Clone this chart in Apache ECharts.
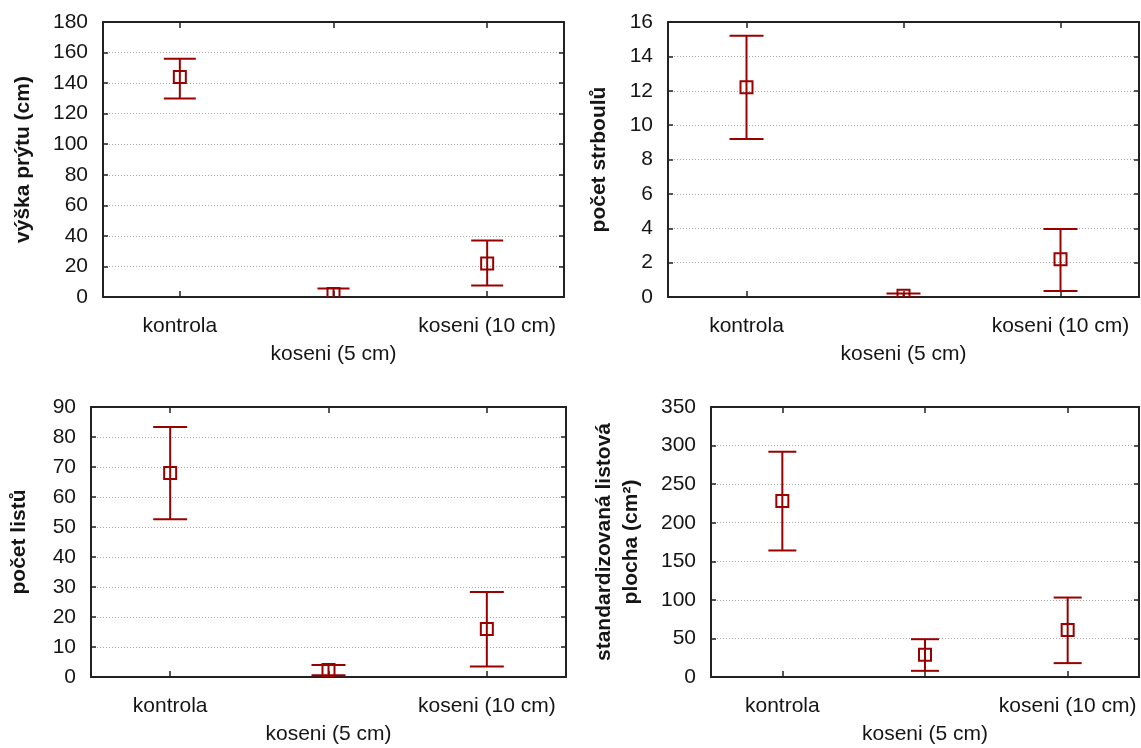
<!DOCTYPE html>
<html>
<head>
<meta charset="utf-8">
<script src="https://cdn.jsdelivr.net/npm/echarts@6/dist/echarts.min.js"></script>
<style>
  html, body { margin: 0; padding: 0; background: #ffffff; }
  #chart { width: 1141px; height: 748px; }
</style>
</head>
<body>
<div id="chart"></div>
<script>
// Treatment groups shared by all four panels
const categories = ['kontrola', 'koseni (5 cm)', 'koseni (10 cm)'];

// výška prýtu (cm): mean with lower / upper interval bounds
const vyskaMean = [144, 2, 22];
const vyskaLow  = [130, -1.5, 7.5];
const vyskaHigh = [156, 5.5, 37];

// počet strboulů
const strbMean = [12.2, 0.08, 2.2];
const strbLow  = [9.2, -0.04, 0.35];
const strbHigh = [15.2, 0.2, 3.95];

// počet listů
const listyMean = [68, 2.3, 16];
const listyLow  = [52.6, 0.6, 3.5];
const listyHigh = [83.3, 4.0, 28.3];

// standardizovaná listová plocha (cm²)
const plochaMean = [228, 29, 61];
const plochaLow  = [164, 8, 18];
const plochaHigh = [292, 49, 103];

// Value-axis scales
const yMax      = [180, 16, 90, 350];
const yInterval = [20, 2, 10, 50];

const yNames = [
  'výška prýtu (cm)',
  'počet strboulů',
  'počet listů',
  'standardizovaná listová\nplocha (cm²)'
];

const panels = [
  { mean: vyskaMean,  low: vyskaLow,  high: vyskaHigh },
  { mean: strbMean,   low: strbLow,   high: strbHigh },
  { mean: listyMean,  low: listyLow,  high: listyHigh },
  { mean: plochaMean, low: plochaLow, high: plochaHigh }
];

// Plot rectangles and per-panel styling
const grids = [
  { left: 103, top: 22,  width: 461, height: 275 },
  { left: 668, top: 22,  width: 471, height: 275 },
  { left: 91,  top: 407, width: 475, height: 275 },
  { left: 711, top: 407, width: 428, height: 275 }
];
const nameGaps = [66, 55, 58, 66];
const capHalf  = [16, 17, 17, 14];

const FONT = "'Liberation Sans', Arial, sans-serif";
const INK = '#151515';
const MARK = '#990000';
const AXIS_LINE = { show: true, onZero: false, lineStyle: { color: '#222', width: 2 } };

const xAxis = [];
const yAxis = [];
const series = [];

grids.forEach((g, i) => {
  // bottom category axis with staggered labels
  xAxis.push({
    gridIndex: i,
    type: 'category',
    data: categories,
    position: 'bottom',
    boundaryGap: true,
    axisLine: AXIS_LINE,
    axisTick: { show: true, inside: true, length: 6, alignWithLabel: true,
                lineStyle: { color: '#222', width: 1.5 } },
    axisLabel: {
      interval: 0,
      margin: 15,
      color: INK,
      fontFamily: FONT,
      fontSize: 21,
      lineHeight: 28,
      hideOverlap: false,
      formatter: (v, idx) => (idx % 2 === 1 ? '\n' + v : v)
    },
    splitLine: { show: false }
  });
  // top frame axis
  xAxis.push({
    gridIndex: i,
    type: 'category',
    data: categories,
    position: 'top',
    boundaryGap: true,
    axisLine: AXIS_LINE,
    axisTick: { show: true, inside: true, length: 6, alignWithLabel: true,
                lineStyle: { color: '#222', width: 1.5 } },
    axisLabel: { show: false },
    splitLine: { show: false }
  });
  // left value axis
  yAxis.push({
    gridIndex: i,
    type: 'value',
    position: 'left',
    min: 0,
    max: yMax[i],
    interval: yInterval[i],
    name: yNames[i],
    nameLocation: 'middle',
    nameRotate: 90,
    nameGap: nameGaps[i],
    nameTextStyle: {
      color: INK, fontFamily: FONT, fontSize: 21, fontWeight: 'bold',
      lineHeight: 27, align: 'center'
    },
    axisLine: AXIS_LINE,
    axisTick: { show: true, inside: true, length: 5, lineStyle: { color: '#222', width: 1.5 } },
    axisLabel: { color: INK, fontFamily: FONT, fontSize: 21, margin: 15 },
    splitLine: { show: true, lineStyle: { color: '#a8a8a8', width: 1, type: [1, 2] } }
  });
  // right frame axis
  yAxis.push({
    gridIndex: i,
    type: 'value',
    position: 'right',
    min: 0,
    max: yMax[i],
    interval: yInterval[i],
    axisLine: AXIS_LINE,
    axisTick: { show: true, inside: true, length: 5, lineStyle: { color: '#222', width: 1.5 } },
    axisLabel: { show: false },
    splitLine: { show: false }
  });

  const p = panels[i];
  const half = capHalf[i];
  series.push({
    type: 'custom',
    xAxisIndex: 2 * i,
    yAxisIndex: 2 * i,
    clip: true,
    silent: true,
    data: categories.map((c, j) => [j, p.mean[j], p.low[j], p.high[j]]),
    encode: { x: 0, y: [1, 2, 3] },
    renderItem: (params, api) => {
      const x = api.value(0);
      const m = api.coord([x, api.value(1)]);
      const lo = api.coord([x, api.value(2)]);
      const hi = api.coord([x, api.value(3)]);
      const st = { stroke: MARK, lineWidth: 2, fill: null };
      const box = 12;
      return {
        type: 'group',
        children: [
          { type: 'line', shape: { x1: m[0], y1: lo[1], x2: m[0], y2: hi[1] }, style: st },
          { type: 'line', shape: { x1: m[0] - half, y1: hi[1], x2: m[0] + half, y2: hi[1] }, style: st },
          { type: 'line', shape: { x1: m[0] - half, y1: lo[1], x2: m[0] + half, y2: lo[1] }, style: st },
          { type: 'rect', shape: { x: m[0] - box / 2, y: m[1] - box / 2, width: box, height: box },
            style: { stroke: MARK, lineWidth: 2, fill: 'rgba(0,0,0,0)' } }
        ]
      };
    }
  });
});

const chart = echarts.init(document.getElementById('chart'), null, { renderer: 'canvas' });
chart.setOption({
  backgroundColor: '#ffffff',
  animation: false,
  grid: grids,
  xAxis: xAxis,
  yAxis: yAxis,
  series: series
});
</script>
</body>
</html>
